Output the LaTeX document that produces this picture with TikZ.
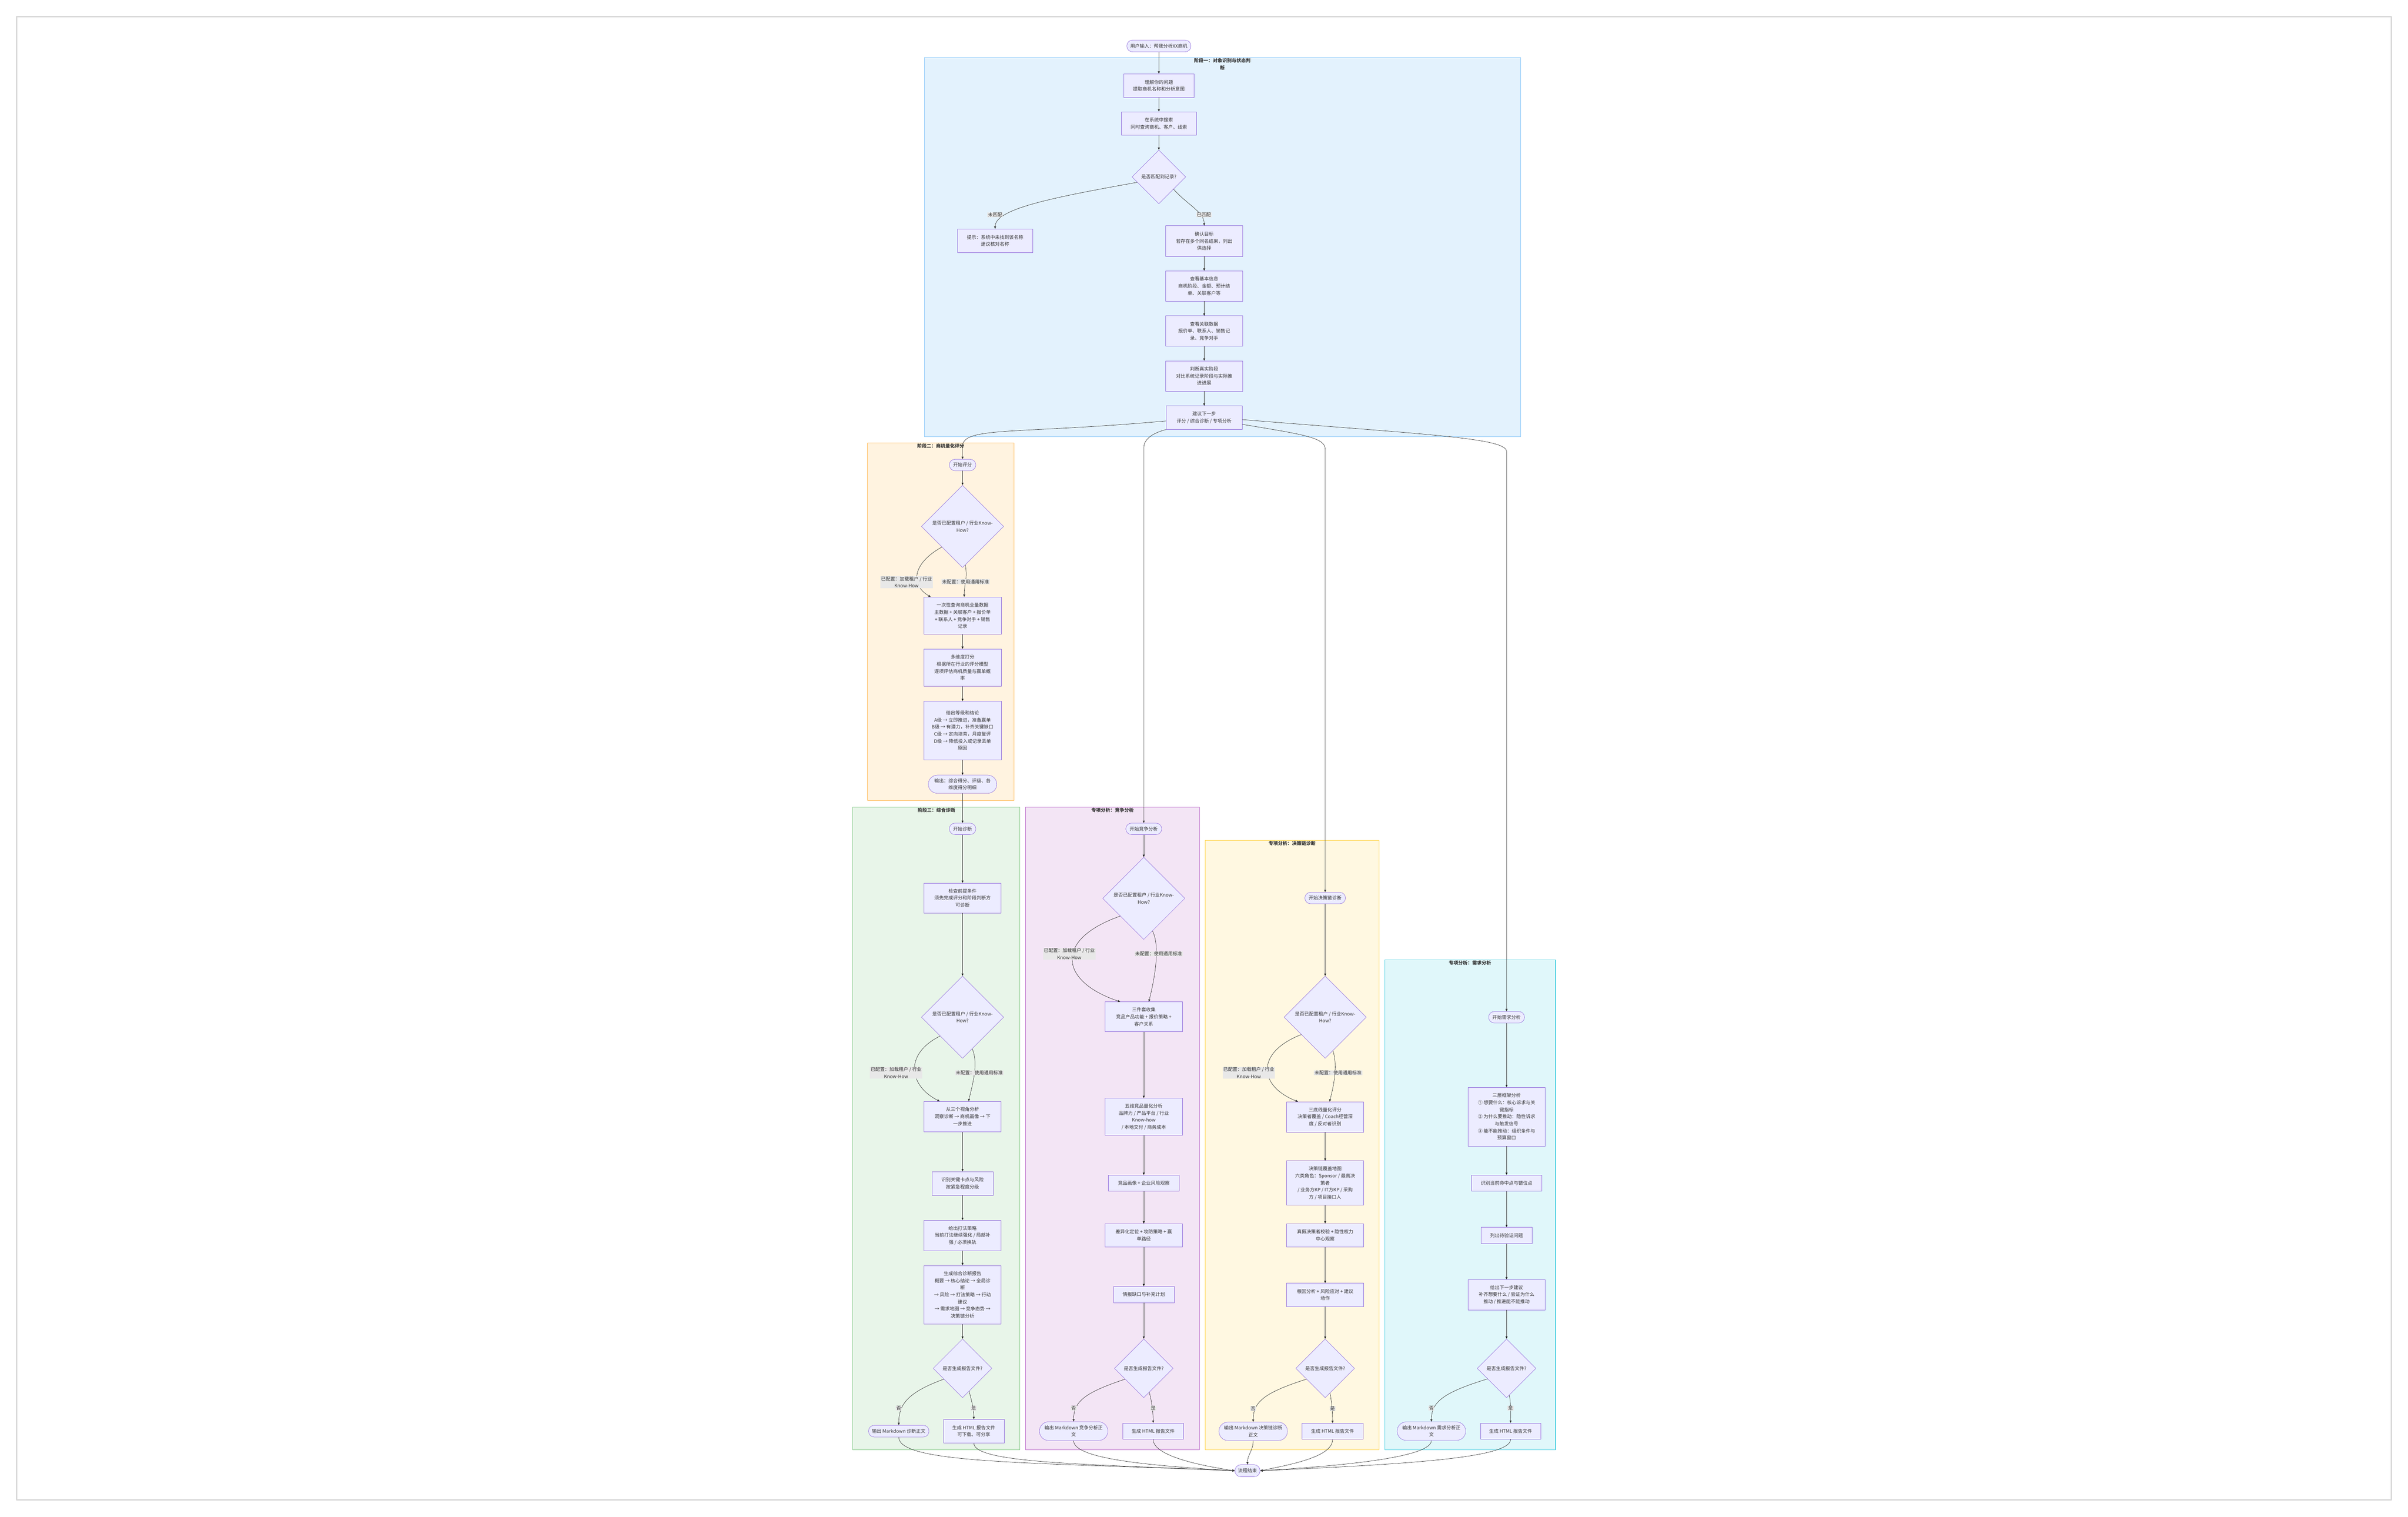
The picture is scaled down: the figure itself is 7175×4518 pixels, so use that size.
\documentclass[tikz,border=0pt]{standalone}
\usepackage{fontspec}
\setmainfont{Noto Sans CJK SC}
\usepackage{tikz}
\usetikzlibrary{arrows.meta, shapes.geometric}

\definecolor{nodefill}{HTML}{ECECFF}
\definecolor{nodeline}{HTML}{9370DB}
\definecolor{textgray}{HTML}{333333}
\definecolor{edgegray}{HTML}{333333}
\definecolor{lblfill}{HTML}{E8E8E8}
\definecolor{framegray}{HTML}{D9D9D9}
\definecolor{bluefill}{HTML}{E3F2FD}
\definecolor{blueline}{HTML}{90CAF9}
\definecolor{orangefill}{HTML}{FFF3E0}
\definecolor{orangeline}{HTML}{FFB74D}
\definecolor{greenfill}{HTML}{E8F5E9}
\definecolor{greenline}{HTML}{81C784}
\definecolor{purplefill}{HTML}{F3E5F5}
\definecolor{purpleline}{HTML}{BA68C8}
\definecolor{yellowfill}{HTML}{FFF8E1}
\definecolor{yellowline}{HTML}{FFD54F}
\definecolor{cyanfill}{HTML}{E0F7FA}
\definecolor{cyanline}{HTML}{4DD0E1}

\newcommand{\flowfont}{\fontsize{14pt}{21pt}\selectfont}

\begin{document}
\begin{tikzpicture}[
            x = 1pt, y = -1pt, % one unit per pixel, y runs down
            > = {Triangle[length=7pt, width=6pt]}, % arrow head style
            line join = round
        ]

        \tikzstyle{box}=[
            rectangle,
            draw = nodeline,
            fill = nodefill,
            line width = 1pt,
            align = center,
            inner sep = 0pt,
            text = textgray,
            font = \flowfont
        ]
        \tikzstyle{term}=[box, rounded corners = 17pt]
        \tikzstyle{decide}=[box, diamond, aspect = 1]
        \tikzstyle{lbl}=[fill = lblfill, text = textgray, font = \flowfont, align = center, inner xsep = 2pt, inner ysep = 1pt]
        \tikzstyle{title}=[text = textgray, font = \flowfont\bfseries, align = center, inner sep = 0pt, anchor = north]
        \tikzstyle{flow}=[->, draw = edgegray, line width = 1pt]
        \tikzstyle{cluster}=[line width = 1.5pt]

	\useasboundingbox (0,0) rectangle (7175,4518);
	\draw[framegray, line width = 4pt] (50,50) rectangle (7125,4468);

	% stage boxes
	\draw[cluster, draw = blueline, fill = bluefill] (2754,172) rectangle (4531,1301);
	\draw[cluster, draw = orangeline, fill = orangefill] (2585,1320) rectangle (3022,2384);
	\draw[cluster, draw = greenline, fill = greenfill] (2540,2404) rectangle (3039,4319);
	\draw[cluster, draw = purpleline, fill = purplefill] (3056,2404) rectangle (3574,4319);
	\draw[cluster, draw = yellowline, fill = yellowfill] (3591,2504) rectangle (4109,4319);
	\draw[cluster, draw = cyanline, fill = cyanfill] (4126,2859) rectangle (4635,4319);

	\node[title] (tOne) at (3642,174) {阶段一：对象识别与状态判\\断};
	\node[title] (tTwo) at (2803,1322) {阶段二：商机量化评分};
	\node[title] (tThree) at (2790,2406) {阶段三：综合诊断};
	\node[title] (tComp) at (3315,2406) {专项分析：竞争分析};
	\node[title] (tChain) at (3850,2506) {专项分析：决策链诊断};
	\node[title] (tNeed) at (4380,2861) {专项分析：需求分析};

	% stage one
	\node[term, minimum width=191pt, minimum height=35pt] (in0) at (3453,137) {用户输入：帮我分析XX商机};
	\node[box, minimum width=209pt, minimum height=70pt] (ask) at (3453,255) {理解你的问题\\提取商机名称和分析意图};
	\node[box, minimum width=223pt, minimum height=70pt] (search) at (3453,368) {在系统中搜索\\同时查询商机、客户、线索};
	\node[decide, minimum size=160pt] (dgMatch) at (3453,527) {是否匹配到记录?};
	\node[box, minimum width=223pt, minimum height=70pt] (hint) at (2965,717) {提示：系统中未找到该名称\\建议核对名称};
	\node[box, minimum width=229pt, minimum height=91pt] (confirm) at (3588,718) {确认目标\\若存在多个同名结果，列出\\供选择};
	\node[box, minimum width=229pt, minimum height=90pt] (info) at (3588,852) {查看基本信息\\商机阶段、金额、预计结\\单、关联客户等};
	\node[box, minimum width=229pt, minimum height=90pt] (data) at (3588,986) {查看关联数据\\报价单、联系人、销售记\\录、竞争对手};
	\node[box, minimum width=229pt, minimum height=90pt] (real) at (3588,1120) {判断真实阶段\\对比系统记录阶段与实际推\\进进展};
	\node[box, minimum width=226pt, minimum height=70pt] (next) at (3588,1244) {建议下一步\\评分 / 综合诊断 / 专项分析};

	% stage two
	\node[term, minimum width=79pt, minimum height=34pt] (score0) at (2868,1385) {开始评分};
	\node[decide, minimum size=245pt] (dgKH1) at (2868,1568) {是否已配置租户 / 行业Know-\\How?};
	\node[box, minimum width=231pt, minimum height=111pt] (fetch) at (2868,1834) {一次性查询商机全量数据\\主数据 + 关联客户 + 报价单\\+ 联系人 + 竞争对手 + 销售\\记录};
	\node[box, minimum width=231pt, minimum height=111pt] (multi) at (2868,1989) {多维度打分\\根据所在行业的评分模型\\逐项评估商机质量与赢单概\\率};
	\node[box, minimum width=231pt, minimum height=174pt] (grade) at (2868,2176) {给出等级和结论\\A级 → 立即推进，准备赢单\\B级 → 有潜力，补齐关键缺口\\C级 → 定向培育，月度复评\\D级 → 降低投入或记录丢单\\原因};
	\node[term, rounded corners=27pt, minimum width=204pt, minimum height=54pt] (scoreOut) at (2868,2336) {输出：综合得分、评级、各\\维度得分明细};

	% stage three
	\node[term, minimum width=79pt, minimum height=34pt] (diag0) at (2868,2469) {开始诊断};
	\node[box, minimum width=230pt, minimum height=89pt] (check) at (2868,2675) {检查前提条件\\须先完成评分和阶段判断方\\可诊断};
	\node[decide, minimum size=245pt] (dgKH2) at (2868,3030) {是否已配置租户 / 行业Know-\\How?};
	\node[box, minimum width=230pt, minimum height=90pt] (views) at (2868,3326) {从三个视角分析\\洞察诊断 → 商机画像 → 下\\一步推进};
	\node[box, minimum width=182pt, minimum height=70pt] (risk) at (2868,3525) {识别关键卡点与风险\\按紧急程度分级};
	\node[box, minimum width=230pt, minimum height=90pt] (play) at (2868,3680) {给出打法策略\\当前打法继续强化 / 局部补\\强 / 必须换轨};
	\node[box, minimum width=230pt, minimum height=175pt] (report) at (2868,3857) {生成综合诊断报告\\概要 → 核心结论 → 全局诊\\断\\→ 风险 → 打法策略 → 行动\\建议\\→ 需求地图 → 竞争态势 →\\决策链分析};
	\node[decide, minimum size=175pt] (dgFileA) at (2868,4076) {是否生成报告文件?};
	\node[term, minimum width=180pt, minimum height=35pt] (mdA) at (2678,4263) {输出 Markdown 诊断正文};
	\node[box, minimum width=181pt, minimum height=70pt] (htmlA) at (2901.5,4263) {生成 HTML 报告文件\\可下载、可分享};

	% competition
	\node[term, minimum width=107pt, minimum height=34pt] (comp0) at (3408,2469) {开始竞争分析};
	\node[decide, minimum size=245pt] (dgKH3) at (3408,2676) {是否已配置租户 / 行业Know-\\How?};
	\node[box, minimum width=230pt, minimum height=89pt] (kit) at (3408,3029) {三件套收集\\竞品产品功能 + 报价策略 +\\客户关系};
	\node[box, minimum width=230pt, minimum height=110pt] (five) at (3408,3326.5) {五维竞品量化分析\\品牌力 / 产品平台 / 行业\\Know-how\\/ 本地交付 / 商务成本};
	\node[box, minimum width=210pt, minimum height=47pt] (portrait) at (3408,3524) {竞品画像 + 企业风险观察};
	\node[box, minimum width=230pt, minimum height=69pt] (diff) at (3408,3680) {差异化定位 + 攻防策略 + 赢\\单路径};
	\node[box, minimum width=181pt, minimum height=48pt] (gap) at (3408,3856) {情报缺口与补充计划};
	\node[decide, minimum size=175pt] (dgFileB) at (3408,4076) {是否生成报告文件?};
	\node[term, rounded corners=28pt, minimum width=204pt, minimum height=56pt] (mdB) at (3199,4263) {输出 Markdown 竞争分析正\\文};
	\node[box, minimum width=181pt, minimum height=48pt] (htmlB) at (3436,4263) {生成 HTML 报告文件};

	% decision chain
	\node[term, minimum width=121pt, minimum height=34pt] (chain0) at (3948.5,2675) {开始决策链诊断};
	\node[decide, minimum size=245pt] (dgKH4) at (3948.5,3030) {是否已配置租户 / 行业Know-\\How?};
	\node[box, minimum width=230pt, minimum height=90pt] (base) at (3948.5,3327) {三底线量化评分\\决策者覆盖 / Coach经营深\\度 / 反对者识别};
	\node[box, minimum width=230pt, minimum height=132pt] (map) at (3948.5,3524) {决策链覆盖地图\\六类角色：Sponsor / 最高决\\策者\\/ 业务方KP / IT方KP / 采购\\方 / 项目接口人};
	\node[box, minimum width=230pt, minimum height=69pt] (verify) at (3948.5,3679.5) {真假决策者校验 + 隐性权力\\中心观察};
	\node[box, minimum width=230pt, minimum height=69pt] (cause) at (3948.5,3857) {根因分析 + 风险应对 + 建议\\动作};
	\node[decide, minimum size=175pt] (dgFileC) at (3948.5,4076) {是否生成报告文件?};
	\node[term, rounded corners=27pt, minimum width=204pt, minimum height=55pt] (mdC) at (3734,4263.5) {输出 Markdown 决策链诊断\\正文};
	\node[box, minimum width=182pt, minimum height=48pt] (htmlC) at (3970.5,4263.5) {生成 HTML 报告文件};

	% needs
	\node[term, minimum width=107pt, minimum height=34pt] (need0) at (4489,3030) {开始需求分析};
	\node[box, minimum width=230pt, minimum height=175pt] (frame) at (4489,3326.5) {三层框架分析\\① 想要什么：核心诉求与关\\键指标\\② 为什么要推动：隐性诉求\\与触发信号\\③ 能不能推动：组织条件与\\预算窗口};
	\node[box, minimum width=209pt, minimum height=47pt] (hit) at (4489,3524) {识别当前命中点与错位点};
	\node[box, minimum width=152pt, minimum height=48pt] (todo) at (4489,3680) {列出待验证问题};
	\node[box, minimum width=230pt, minimum height=90pt] (advice) at (4489,3856.5) {给出下一步建议\\补齐想要什么 / 验证为什么\\推动 / 推进能不能推动};
	\node[decide, minimum size=175pt] (dgFileD) at (4489,4076) {是否生成报告文件?};
	\node[term, rounded corners=27pt, minimum width=204pt, minimum height=55pt] (mdD) at (4265,4263) {输出 Markdown 需求分析正\\文};
	\node[box, minimum width=180pt, minimum height=48pt] (htmlD) at (4501,4263) {生成 HTML 报告文件};

	\node[term, rounded corners=18pt, minimum width=75pt, minimum height=36pt] (done) at (3717,4381) {流程结束};

	% bends of the long links
	\coordinate (bendScore) at (2868,1330);
	\coordinate (bendComp) at (3408,1335);
	\coordinate (bendChain) at (3948.5,1338);
	\coordinate (bendNeed) at (4489,1345);

	% links
	\path[flow] (in0) edge (ask)
	            (ask) edge (search)
	            (search) edge (dgMatch);
	\draw[flow] (dgMatch.194) .. controls +(-250,45) and +(0,-60) .. (hint.north);
	\draw[flow] (dgMatch.-40) .. controls +(40,45) and +(0,-40) .. (confirm.north);
	\path[flow] (confirm) edge (info)
	            (info) edge (data)
	            (data) edge (real)
	            (real) edge (next);

	\draw[flow] (next.185) .. controls +(-450,40) and +(0,-60) .. (bendScore) -- (score0.north);
	\draw[flow] (next.south west) .. controls +(-45,12) and +(0,-25) .. (bendComp) -- (comp0.north);
	\draw[flow] (next.-10) .. controls +(180,30) and +(0,-35) .. (bendChain) -- (chain0.north);
	\draw[flow] (next.-3) .. controls +(560,45) and +(0,-40) .. (bendNeed) -- (need0.north);

	\path[flow] (score0) edge (dgKH1);
	\draw[flow] (dgKH1.225) .. controls +(-90,50) and +(-60,-35) .. ([xshift=-95pt]fetch.north);
	\draw[flow] (dgKH1.-86) .. controls +(8,40) and +(0,-40) .. ([xshift=5pt]fetch.north);
	\path[flow] (fetch) edge (multi)
	            (multi) edge (grade)
	            (grade) edge (scoreOut)
	            (scoreOut) edge (diag0);

	\path[flow] (diag0) edge (check)
	            (check) edge (dgKH2);
	\draw[flow] (dgKH2.220) .. controls +(-110,55) and +(-90,-45) .. ([xshift=-68pt]views.north);
	\draw[flow] (dgKH2.-73) .. controls +(20,45) and +(10,-45) .. ([xshift=18pt]views.north);
	\path[flow] (views) edge (risk)
	            (risk) edge (play)
	            (play) edge (report)
	            (report) edge (dgFileA);
	\draw[flow] (dgFileA.210) .. controls +(-110,40) and +(0,-60) .. (mdA.north);
	\draw[flow] (dgFileA.-74) .. controls +(8,30) and +(0,-30) .. (htmlA.north);

	\path[flow] (comp0) edge (dgKH3);
	\draw[flow] (dgKH3.217) .. controls +(-200,70) and +(-180,-60) .. ([xshift=-70pt]kit.north);
	\draw[flow] (dgKH3.-75) .. controls +(25,50) and +(15,-60) .. ([xshift=15pt]kit.north);
	\path[flow] (kit) edge (five)
	            (five) edge (portrait)
	            (portrait) edge (diff)
	            (diff) edge (gap)
	            (gap) edge (dgFileB);
	\draw[flow] (dgFileB.210) .. controls +(-120,40) and +(0,-60) .. (mdB.north);
	\draw[flow] (dgFileB.-77) .. controls +(8,30) and +(0,-30) .. (htmlB.north);

	\path[flow] (chain0) edge (dgKH4);
	\draw[flow] (dgKH4.216) .. controls +(-140,55) and +(-115,-45) .. ([xshift=-81pt]base.north);
	\draw[flow] (dgKH4.-77) .. controls +(15,45) and +(12,-45) .. ([xshift=13pt]base.north);
	\path[flow] (base) edge (map)
	            (map) edge (verify)
	            (verify) edge (cause)
	            (cause) edge (dgFileC);
	\draw[flow] (dgFileC.210) .. controls +(-125,40) and +(0,-60) .. (mdC.north);
	\draw[flow] (dgFileC.-79) .. controls +(6,30) and +(0,-30) .. (htmlC.north);

	\path[flow] (need0) edge (frame)
	            (frame) edge (hit)
	            (hit) edge (todo)
	            (todo) edge (advice)
	            (advice) edge (dgFileD);
	\draw[flow] (dgFileD.209) .. controls +(-130,40) and +(0,-60) .. (mdD.north);
	\draw[flow] (dgFileD.-84) .. controls +(5,30) and +(0,-30) .. (htmlD.north);

	\draw[flow] (mdA.south) .. controls +(0,80) and +(-600,-25) .. (done.west);
	\draw[flow] (htmlA.south) .. controls +(0,60) and +(-450,-20) .. (done.west);
	\draw[flow] (mdB.south) .. controls +(0,55) and +(-250,-15) .. (done.west);
	\draw[flow] (htmlB.south) .. controls +(0,50) and +(-100,-15) .. (done.west);
	\draw[flow] (mdC.south) .. controls +(0,30) and +(0,-30) .. (done.north);
	\draw[flow] (htmlC.south) .. controls +(0,50) and +(100,-20) .. (done.east);
	\draw[flow] (mdD.south) .. controls +(0,50) and +(250,-15) .. (done.east);
	\draw[flow] (htmlD.south) .. controls +(0,55) and +(450,-20) .. (done.east);

	% link labels
	\node[lbl] (lNoMatch) at (2965,640) {未匹配};
	\node[lbl] (lMatch) at (3587,640) {已匹配};
	\node[lbl] (lKHa) at (2701,1734) {已配置：加载租户 / 行业\\Know-How};
	\node[lbl] (lStdA) at (2877,1733) {未配置：使用通用标准};
	\node[lbl] (lKHb) at (2670,3196) {已配置：加载租户 / 行业\\Know-How};
	\node[lbl] (lStdB) at (2918,3196) {未配置：使用通用标准};
	\node[lbl] (lKHc) at (3186,2841) {已配置：加载租户 / 行业\\Know-How};
	\node[lbl] (lStdC) at (3452.5,2841) {未配置：使用通用标准};
	\node[lbl] (lKHd) at (3721,3196) {已配置：加载租户 / 行业\\Know-How};
	\node[lbl] (lStdD) at (3987,3196) {未配置：使用通用标准};
	\node[lbl] (lNoA) at (2678,4195) {否};
	\node[lbl] (lYesA) at (2901,4195) {是};
	\node[lbl] (lNoB) at (3199,4195) {否};
	\node[lbl] (lYesB) at (3436,4195) {是};
	\node[lbl] (lNoC) at (3734,4196) {否};
	\node[lbl] (lYesC) at (3970.5,4196) {是};
	\node[lbl] (lNoD) at (4265,4195) {否};
	\node[lbl] (lYesD) at (4501,4195) {是};

    \end{tikzpicture}
\end{document}
